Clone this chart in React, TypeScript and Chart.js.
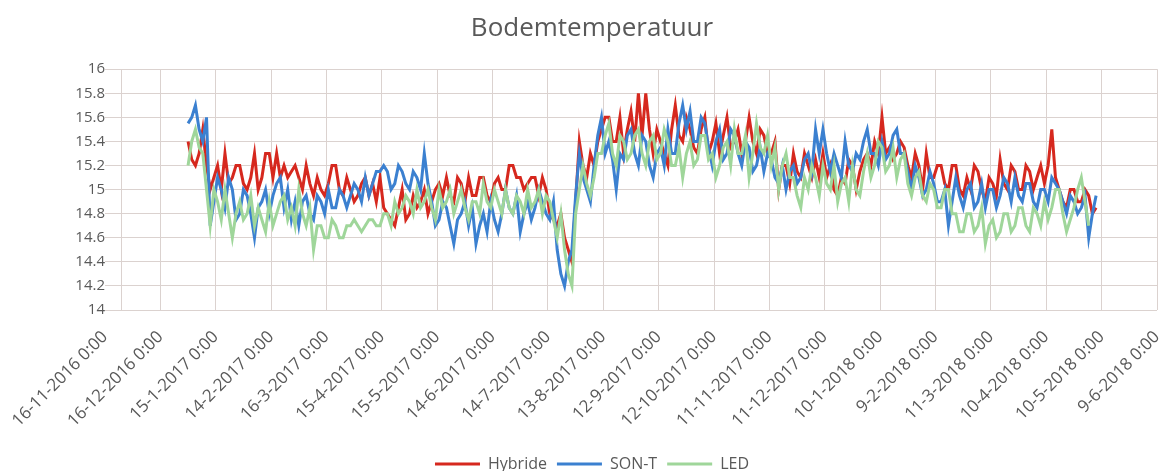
import { useEffect, useRef } from 'react';
import { Chart, registerables } from 'chart.js';
Chart.register(...registerables);

// Days are counted from 16-11-2016 (the first x-axis tick)
const startDay = 45; // 31-12-2016
const stepDays = 2;
const axisMaxDay = 570; // 9-6-2018
const tickStepDays = 30;
const extraGridDay = 9.2; // vertical axis crossing line

const seriesNames = ['Hybride', 'SON-T', 'LED'];

const hybride = [
  15.4, 15.25, 15.2, 15.3, 15.5, 15.2, 15.0, 15.1, 15.2, 15.0,
  15.3, 15.05, 15.1, 15.2, 15.2, 15.05, 15.0, 15.1, 15.3, 15.0,
  15.1, 15.3, 15.3, 15.1, 15.3, 15.1, 15.2, 15.1, 15.15, 15.2,
  15.1, 15.0, 15.2, 15.05, 14.95, 15.1, 15.0, 14.95, 15.05, 15.2,
  15.2, 15.0, 14.95, 15.1, 15.0, 14.9, 14.95, 15.05, 15.1, 14.95,
  15.05, 14.9, 15.1, 14.85, 14.8, 14.75, 14.7, 14.85, 15.0, 14.75,
  14.8, 14.95, 14.85, 14.9, 15.0, 14.8, 14.9, 15.0, 15.05, 14.95,
  15.1, 14.95, 14.9, 15.1, 15.05, 14.9, 15.1, 14.95, 14.95, 15.1,
  15.1, 14.95, 14.9, 15.05, 15.1, 15.0, 15.0, 15.2, 15.2, 15.1,
  15.1, 15.0, 15.05, 15.1, 15.1, 14.95, 15.1, 15.0, 14.8, 14.75,
  14.7, 14.8, 14.6, 14.5, 14.4, 14.9, 15.4, 15.2, 15.1, 15.3,
  15.2, 15.4, 15.5, 15.6, 15.6, 15.4, 15.4, 15.6, 15.3, 15.5,
  15.65, 15.4, 15.8, 15.45, 15.8, 15.5, 15.3, 15.5, 15.4, 15.3,
  15.2, 15.5, 15.7, 15.45, 15.4, 15.6, 15.5, 15.35, 15.3, 15.5,
  15.6, 15.3, 15.4, 15.55, 15.3, 15.45, 15.6, 15.35, 15.4, 15.5,
  15.3, 15.4, 15.6, 15.4, 15.3, 15.5, 15.45, 15.3, 15.3, 15.4,
  15.0, 15.2, 15.2, 15.05, 15.3, 15.15, 15.1, 15.3, 15.2, 15.1,
  15.25, 15.1, 15.3, 15.1, 15.2, 15.0, 14.95, 15.1, 15.05, 15.25,
  15.2, 15.0, 15.15, 15.25, 15.3, 15.2, 15.4, 15.3, 15.6, 15.3,
  15.35, 15.25, 15.3, 15.4, 15.35, 15.2, 15.1, 15.3, 15.2, 15.0,
  15.3, 15.1, 15.1, 15.2, 15.2, 15.05, 15.0, 15.2, 15.2, 15.0,
  14.95, 15.1, 15.0, 15.2, 15.15, 15.0, 14.9, 15.1, 15.05, 14.95,
  15.25, 15.05, 15.0, 15.2, 15.15, 15.0, 15.0, 15.2, 15.15, 15.0,
  15.1, 15.2, 15.05, 15.2, 15.5, 15.1, 15.0, 14.9, 14.85, 15.0,
  15.0, 14.9, 14.9, 15.0, 14.95, 14.8, 14.85,
];

const sonT = [
  15.55, 15.6, 15.7, 15.5, 15.4, 15.6, 14.7, 14.9, 15.1, 15.0,
  14.85, 15.1, 15.0, 14.75, 14.8, 15.0, 14.95, 14.8, 14.6, 14.85,
  14.9, 15.0, 14.8, 14.95, 15.05, 15.1, 14.85, 15.0, 14.75, 14.9,
  14.7, 14.9, 14.95, 14.8, 14.75, 14.95, 14.9, 14.8, 15.0, 14.85,
  14.85, 15.0, 14.95, 14.85, 14.95, 15.05, 15.0, 14.9, 15.1, 14.95,
  15.05, 15.15, 15.15, 15.2, 15.15, 15.0, 15.05, 15.2, 15.15, 15.05,
  15.0, 15.15, 15.1, 15.0, 15.3, 15.05, 14.9, 14.7, 14.75, 14.9,
  14.85, 14.7, 14.55, 14.75, 14.8, 14.9, 14.7, 14.85, 14.55, 14.7,
  14.8, 14.65, 14.9, 14.75, 14.65, 14.8, 15.0, 14.85, 14.8, 14.95,
  14.65, 14.8, 14.9, 14.75, 14.85, 15.0, 14.9, 14.8, 14.75, 14.9,
  14.5, 14.3, 14.2, 14.4, 14.5, 14.95, 15.3, 15.1, 15.0, 14.9,
  15.2, 15.45, 15.6, 15.3, 15.4, 15.25, 15.0, 15.3, 15.25, 15.45,
  15.5, 15.3, 15.2, 15.45, 15.4, 15.2, 15.1, 15.3, 15.35, 15.2,
  15.5, 15.3, 15.3, 15.55, 15.7, 15.5, 15.65, 15.4, 15.4, 15.6,
  15.55, 15.35, 15.2, 15.4, 15.5, 15.25, 15.3, 15.5, 15.45, 15.3,
  15.2, 15.4, 15.35, 15.15, 15.2, 15.35, 15.15, 15.3, 15.25, 15.1,
  15.05, 15.2, 15.0, 15.15, 15.2, 15.05, 15.1, 15.25, 15.3, 15.15,
  15.5, 15.3, 15.5, 15.3, 15.15, 15.3, 15.2, 15.1, 15.4, 15.2,
  15.15, 15.3, 15.25, 15.4, 15.5, 15.3, 15.3, 15.2, 15.4, 15.25,
  15.3, 15.45, 15.5, 15.3, 15.3, 15.15, 15.0, 15.2, 15.1, 14.95,
  15.0, 15.15, 15.05, 14.9, 14.9, 15.0, 14.7, 14.9, 15.1, 14.95,
  14.85, 15.0, 15.05, 14.85, 14.9, 15.05, 14.85, 15.0, 15.0, 14.85,
  14.95, 15.1, 15.05, 14.9, 15.1, 14.95, 14.9, 15.05, 15.05, 14.9,
  14.85, 15.0, 15.0, 14.9, 15.1, 15.05, 15.0, 14.9, 14.8, 14.95,
  14.9, 14.8, 14.85, 14.95, 14.6, 14.8, 14.95,
];

const led = [
  15.2, 15.4, 15.5, 15.35, 15.3, 15.0, 14.7, 15.0, 14.9, 14.75,
  15.0, 14.8, 14.6, 14.8, 14.9, 14.75, 14.8, 14.95, 14.7, 14.85,
  14.75, 14.65, 14.9, 14.7, 14.8, 14.9, 14.95, 14.75, 14.85, 14.7,
  15.0, 14.8, 14.7, 14.85, 14.5, 14.7, 14.7, 14.6, 14.6, 14.75,
  14.7, 14.6, 14.6, 14.7, 14.7, 14.75, 14.7, 14.65, 14.7, 14.75,
  14.75, 14.7, 14.7, 14.8, 14.8, 14.7, 14.9, 14.8, 14.85, 14.95,
  14.9, 14.8, 15.0, 14.85, 14.9, 15.0, 14.85, 14.75, 15.0, 14.85,
  14.9, 15.0, 14.8, 14.9, 15.0, 14.85, 14.75, 14.9, 14.9, 14.8,
  15.05, 14.9, 14.85, 15.0, 14.9, 14.8, 15.0, 14.85, 14.8, 14.95,
  14.9, 14.8, 15.0, 14.85, 14.9, 15.0, 14.8, 14.95, 14.9, 14.75,
  14.6, 14.8, 14.5, 14.3, 14.2, 14.8, 15.0, 15.2, 15.05, 14.95,
  15.1, 15.3, 15.3, 15.45, 15.55, 15.3, 15.2, 15.45, 15.4, 15.25,
  15.3, 15.45, 15.5, 15.3, 15.2, 15.4, 15.45, 15.25, 15.3, 15.5,
  15.4, 15.2, 15.2, 15.35, 15.1, 15.3, 15.4, 15.2, 15.25, 15.45,
  15.45, 15.25, 15.3, 15.1, 15.2, 15.35, 15.4, 15.2, 15.5, 15.3,
  15.3, 15.45, 15.1, 15.3, 15.55, 15.35, 15.3, 15.45, 15.2, 15.35,
  15.0, 15.2, 15.3, 15.1, 15.1, 14.95, 14.85, 15.1, 15.0, 15.2,
  15.1, 14.95, 15.2, 15.05, 15.0, 15.2, 14.9, 15.05, 15.1, 14.9,
  15.2, 15.0, 14.95, 15.15, 15.3, 15.1, 15.2, 15.4, 15.35, 15.15,
  15.2, 15.35, 15.1, 15.25, 15.3, 15.05, 14.95, 15.1, 15.15, 14.95,
  14.9, 15.05, 15.0, 14.85, 14.85, 15.0, 15.0, 14.8, 14.8, 14.65,
  14.65, 14.8, 14.8, 14.65, 14.7, 14.85, 14.55, 14.7, 14.75, 14.6,
  14.65, 14.8, 14.8, 14.65, 14.7, 14.85, 14.85, 14.7, 14.65, 14.85,
  14.8, 14.7, 14.9, 14.75, 14.85, 15.0, 15.0, 14.8, 14.65, 14.75,
  14.85, 15.0, 15.1, 14.9, 14.7, null, null,
];

const colors = ['#d6281e', '#3b80d0', '#9fd69a'];
const gridColor = '#dbd2cf';
const textColor = '#595959';

function dayLabel(day: number) {
  const d = new Date(2016, 10, 16 + Math.round(day));
  return `${d.getDate()}-${d.getMonth() + 1}-${d.getFullYear()} 0:00`;
}

export default function App() {
  const ref = useRef<HTMLCanvasElement>(null);
  useEffect(() => {
    document.body.style.margin = '0';
    const toPts = (arr: (number | null)[]) =>
      arr.map((v, i) => ({ x: startDay + i * stepDays, y: v }));
    const all = [hybride, sonT, led];
    const chart = new Chart(ref.current as HTMLCanvasElement, {
      type: 'line',
      data: {
        datasets: all.map((arr, k) => ({
          label: seriesNames[k],
          data: toPts(arr) as any,
          borderColor: colors[k],
          backgroundColor: colors[k],
          borderWidth: 3,
          pointRadius: 0,
          tension: 0,
          order: 3 - k,
          spanGaps: false,
        })),
      },
      options: {
        animation: false,
        responsive: false,
        layout: { padding: { left: 22, right: 0, top: 0, bottom: -11 } },
        plugins: {
          title: {
            display: true,
            text: 'Bodemtemperatuur',
            color: textColor,
            font: { family: 'Open Sans', size: 26, weight: 'normal' },
            padding: { top: 13, bottom: 25 },
          },
          legend: {
            position: 'bottom',
            labels: {
              color: textColor,
              font: { family: 'Open Sans', size: 16 },
              boxWidth: 45,
              boxHeight: 3,
              padding: 10,
              sort: (a: any, b: any) => a.datasetIndex - b.datasetIndex,
              generateLabels: (c: any) =>
                (Chart.defaults.plugins.legend.labels.generateLabels as any)(c).map((l: any) => ({
                  ...l,
                  lineWidth: 0,
                })),
            },
          },
          tooltip: { enabled: false },
        },
        scales: {
          x: {
            type: 'linear',
            min: 0,
            max: axisMaxDay,
            afterBuildTicks: (scale: any) => {
              scale.ticks.push({ value: extraGridDay });
              scale.ticks.sort((a: any, b: any) => a.value - b.value);
            },
            afterFit: (scale: any) => {
              scale.height = 136;
              scale.paddingRight = 5;
              scale.paddingLeft = 0;
            },
            ticks: {
              stepSize: tickStepDays,
              autoSkip: false,
              maxRotation: 45,
              minRotation: 45,
              color: textColor,
              padding: 17,
              font: { family: 'Open Sans', size: 17 },
              callback: (v: any) => (Number(v) % tickStepDays === 0 ? dayLabel(Number(v)) : ''),
            },
            grid: {
              drawTicks: false,
              color: (ctx: any) => (ctx.tick && ctx.tick.value === 0 ? 'rgba(0,0,0,0)' : gridColor),
              lineWidth: 1,
            },
            border: { display: false },
          },
          y: {
            min: 14,
            max: 16,
            afterFit: (scale: any) => {
              scale.width = 83;
            },
            ticks: {
              stepSize: 0.2,
              color: textColor,
              padding: 0,
              font: { family: 'Open Sans', size: 15 },
              callback: (v: any) => String(Math.round(Number(v) * 10) / 10),
            },
            grid: { drawTicks: false, color: gridColor, lineWidth: 1 },
            border: { display: false },
          },
        },
      },
    });
    return () => chart.destroy();
  }, []);
  return (
    <div style={{ width: 1162, height: 471, background: '#fff' }}>
      <canvas ref={ref} width={1162} height={471} style={{ display: 'block' }} />
    </div>
  );
}
